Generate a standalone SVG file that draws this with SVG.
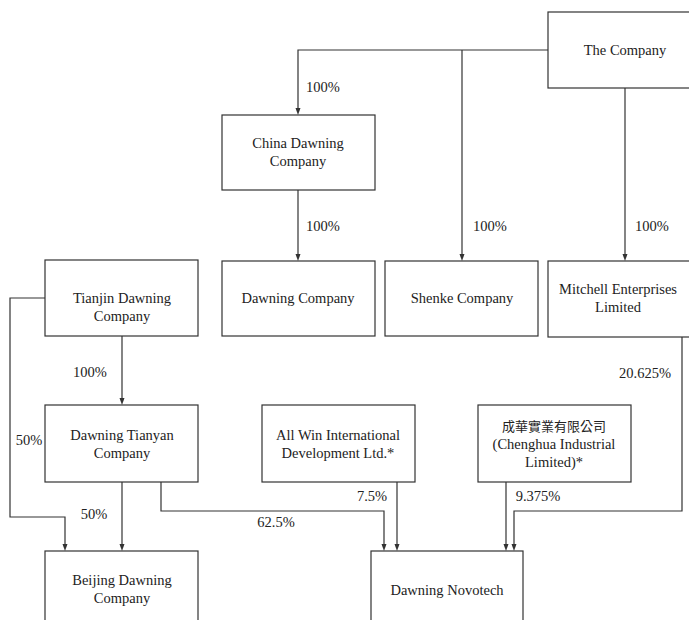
<svg xmlns="http://www.w3.org/2000/svg" width="689" height="620" viewBox="0 0 689 620">
<style>
.box{fill:#fff;stroke:#333;stroke-width:1.2}
.ln{fill:none;stroke:#333;stroke-width:1.2}
text{font-family:'Liberation Serif','Times New Roman',serif;font-size:14.5px;fill:#222;text-anchor:middle}
text.cjk{font-family:'Noto Sans CJK TC','Noto Sans CJK SC',sans-serif;font-size:13px}
</style>
<rect width="689" height="620" fill="#fff"/>
<g id="connectors">
<path class="ln" d="M548,50 H298 V110"/>
<path class="ln" d="M462,50 V256"/>
<path class="ln" d="M625,88 V256"/>
<path class="ln" d="M298,190 V256"/>
<path class="ln" d="M45,298 H10 V517 H65 V546"/>
<path class="ln" d="M122,336 V400"/>
<path class="ln" d="M122,482 V546"/>
<path class="ln" d="M161,482 V511 H384 V546"/>
<path class="ln" d="M397,482 V546"/>
<path class="ln" d="M506,482 V546"/>
<path class="ln" d="M682,337 V511 H514 V546"/>
<g fill="#333">
<path d="M295.5,108 L298,115 L300.5,108 Z"/>
<path d="M459.5,254 L462,261 L464.5,254 Z"/>
<path d="M622.5,254 L625,261 L627.5,254 Z"/>
<path d="M295.5,254 L298,261 L300.5,254 Z"/>
<path d="M119.5,398 L122,405 L124.5,398 Z"/>
<path d="M62.5,544 L65,551 L67.5,544 Z"/>
<path d="M119.5,544 L122,551 L124.5,544 Z"/>
<path d="M381.5,544 L384,551 L386.5,544 Z"/>
<path d="M394.5,544 L397,551 L399.5,544 Z"/>
<path d="M503.5,544 L506,551 L508.5,544 Z"/>
<path d="M511.5,544 L514,551 L516.5,544 Z"/>
</g>
<text x="323" y="92">100%</text>
<text x="323" y="231">100%</text>
<text x="490" y="231">100%</text>
<text x="652" y="231">100%</text>
<text x="90" y="377">100%</text>
<text x="29" y="445">50%</text>
<text x="94" y="519">50%</text>
<text x="276" y="527">62.5%</text>
<text x="372" y="501">7.5%</text>
<text x="538" y="501">9.375%</text>
<text x="645" y="378">20.625%</text>
</g>
<g id="the-company"><rect class="box" x="548" y="12" width="150" height="76"/><text x="625" y="55">The Company</text></g>
<g id="china-dawning"><rect class="box" x="222" y="115" width="153" height="75"/><text x="298" y="148">China Dawning</text><text x="298" y="166">Company</text></g>
<g id="tianjin"><rect class="box" x="45" y="260" width="153" height="76"/><text x="122" y="303">Tianjin Dawning</text><text x="122" y="321">Company</text></g>
<g id="dawning-company"><rect class="box" x="222" y="261" width="153" height="75"/><text x="298" y="303">Dawning Company</text></g>
<g id="shenke"><rect class="box" x="385" y="261" width="153" height="75"/><text x="462" y="303">Shenke Company</text></g>
<g id="mitchell"><rect class="box" x="548" y="261" width="150" height="76"/><text x="618" y="294">Mitchell Enterprises</text><text x="618" y="312">Limited</text></g>
<g id="tianyan"><rect class="box" x="45" y="405" width="153" height="77"/><text x="122" y="440">Dawning Tianyan</text><text x="122" y="458">Company</text></g>
<g id="allwin"><rect class="box" x="262" y="405" width="153" height="77"/><text x="338" y="440">All Win International</text><text x="338" y="458">Development Ltd.*</text></g>
<g id="chenghua"><rect class="box" x="478" y="405" width="153" height="77"/><text class="cjk" x="554" y="431">成華實業有限公司</text><text x="554" y="449">(Chenghua Industrial</text><text x="554" y="467">Limited)*</text></g>
<g id="beijing"><rect class="box" x="45" y="551" width="153" height="80"/><text x="122" y="585">Beijing Dawning</text><text x="122" y="603">Company</text></g>
<g id="novotech"><rect class="box" x="371" y="551" width="152" height="80"/><text x="447" y="595">Dawning Novotech</text></g>
</svg>
